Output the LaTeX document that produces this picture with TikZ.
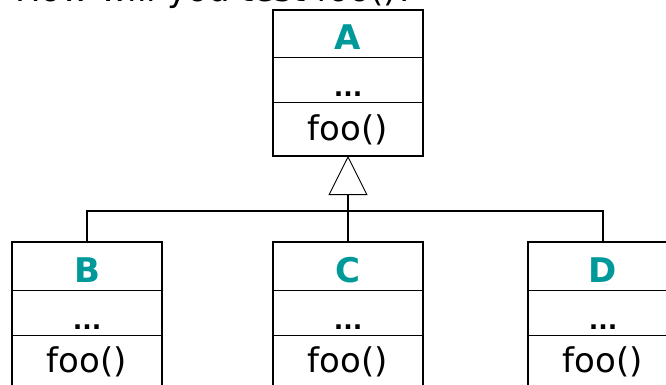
\documentclass[tikz,border=0pt]{standalone}
\usepackage{fontspec}
\setmainfont{DejaVu Sans}
\usetikzlibrary{calc,arrows.meta}
\definecolor{classteal}{RGB}{0,153,153}

\begin{document}
\begin{tikzpicture}[x=1pt,y=-1pt]
    \newcommand\DrawClassBox[4]{% name, left, top, class letter
        \node[classbox,anchor=north west] (#1) at (#2,#3) {};
        \draw[divider] ($(#1.north west)+(0,48)$) -- ($(#1.north east)+(0,48)$);
        \draw[divider] ($(#1.north west)+(0,93)$) -- ($(#1.north east)+(0,93)$);
        \node[classname] (#1-name) at ($(#1.north)+(0,40)$) {#4};
        \node[classdots] (#1-attr) at ($(#1.north)+(0,87)$) {...};
        \node[classop] (#1-op) at ($(#1.north)+(0,130)$) {foo()};
    }

    \tikzset{%
        classbox/.style={draw,line width=1.2pt,minimum width=150pt,
                minimum height=146pt,inner sep=0pt,outer sep=0pt},
        divider/.style={line width=1pt},
        classname/.style={anchor=base,inner sep=0pt,text=classteal,
                font=\fontsize{34}{40}\selectfont\bfseries},
        classdots/.style={anchor=base,inner sep=0pt,
                font=\fontsize{25}{30}\selectfont\bfseries},
        classop/.style={anchor=base,inner sep=0pt,
                font=\fontsize{34}{40}\selectfont},
        conn/.style={line width=2.8pt},
        inherits/.style={-{Triangle[open,length=39pt,width=39pt,line width=0.9pt]}}
    }

    %% frame of the slide
    \useasboundingbox (0,0) rectangle (666,385);
    \clip (0,0) rectangle (666,385);

    %% question, cut off at the top
    \node[anchor=base west,inner sep=0pt,font=\fontsize{34}{40}\selectfont]
        (question) at (15,1.5) {How will you test foo()?};

    %% classes
    \DrawClassBox{A}{273}{10}{A}
    \DrawClassBox{B}{12}{242}{B}
    \DrawClassBox{C}{273}{242}{C}
    \DrawClassBox{D}{528}{242}{D}

    %% inheritance
    \coordinate (bar) at (348,211);
    \draw[conn] (B.north) |- (bar) -| (D.north);
    \draw[conn,inherits] (C.north) -- (A.south);
\end{tikzpicture}
\end{document}
